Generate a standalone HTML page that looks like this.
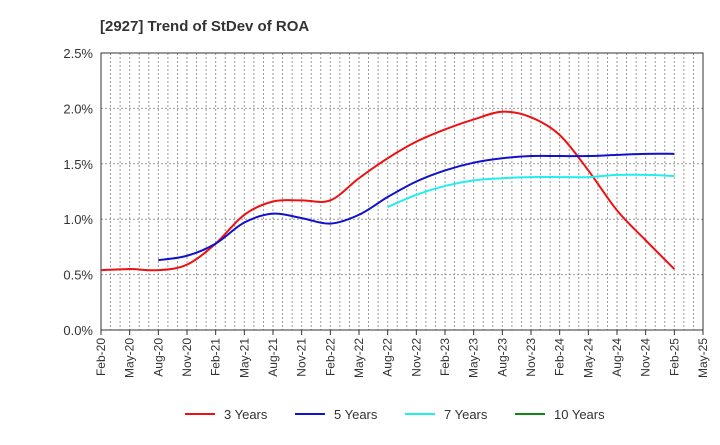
<!DOCTYPE html>
<html><head><meta charset="utf-8"><style>
body{margin:0;background:#fff;font-family:"Liberation Sans",sans-serif}
svg text{font-family:"Liberation Sans",sans-serif}
</style></head><body>
<svg id="c" width="720" height="440">
<text x="100" y="31" font-size="15" font-weight="bold" fill="#333">[2927]  Trend of StDev of ROA</text>
<g id="grid"></g><g id="axes"></g><g id="series"></g><g id="legend"></g>
</svg>
<script>
const xLabels=["Feb-20","May-20","Aug-20","Nov-20","Feb-21","May-21","Aug-21","Nov-21","Feb-22","May-22","Aug-22","Nov-22","Feb-23","May-23","Aug-23","Nov-23","Feb-24","May-24","Aug-24","Nov-24","Feb-25","May-25"];
const yTicks=[0,0.5,1.0,1.5,2.0,2.5];
const seriesNames=["3 Years","5 Years","7 Years","10 Years"];
const seriesColors=["#ee1111","#1111cc","#22eeee","#118811"];
// values at quarter indices (0 = Feb-20)
const s3=[0.54,0.55,0.54,0.59,0.78,1.04,1.16,1.17,1.17,1.37,1.55,1.70,1.81,1.90,1.97,1.92,1.76,1.44,1.08,0.81,0.55];
const s3Start=0;
const s5=[0.63,0.67,0.78,0.97,1.05,1.01,0.96,1.04,1.20,1.34,1.44,1.51,1.55,1.57,1.57,1.57,1.58,1.59,1.59];
const s5Start=2;
const s7=[1.11,1.22,1.30,1.35,1.37,1.38,1.38,1.38,1.40,1.40,1.39];
const s7Start=10;
const s10=[];
const s10Start=0;

const L=101,R=703,T=53,B=330,NS="http://www.w3.org/2000/svg";
const xs=i=>L+(R-L)*i/21;
const ys=v=>B-(B-T)*v/2.5;
function mk(tag,attrs,parent,name,text){const e=document.createElementNS(NS,tag);for(const k in attrs)e.setAttribute(k,attrs[k]);


if(text!==undefined)e.textContent=text;document.getElementById(parent).appendChild(e);return e;}
for(let m=1;m<63;m++){const x=L+(R-L)*m/63;mk('line',{x1:x,x2:x,y1:T,y2:B,stroke:'#999','stroke-dasharray':'2,2','stroke-width':1},'grid','v-grid-line');}
yTicks.forEach(v=>{if(v>0)mk('line',{x1:L,x2:R,y1:ys(v),y2:ys(v),stroke:'#999','stroke-dasharray':'2,2'},'grid','h-grid-line');
mk('text',{x:L-8,y:ys(v)+5,'text-anchor':'end','font-size':13,fill:'#333'},'axes','y-tick-label',v.toFixed(1)+'%');});
mk('rect',{x:L,y:T,width:R-L,height:B-T,fill:'none',stroke:'#333','stroke-width':1},'axes','plot-frame');
xLabels.forEach((l,i)=>{const x=xs(i);mk('line',{x1:x,x2:x,y1:B,y2:B+5,stroke:'#333'},'axes','x-tick');
mk('text',{x:x+4,y:B+8,'text-anchor':'end','font-size':12,fill:'#333',transform:`rotate(-90 ${x+4} ${B+8})`},'axes','x-tick-label',l);});
function path(vals,start){const p=vals.map((v,i)=>[xs(start+i),ys(v)]);if(p.length<2)return'';let d=`M${p[0][0]},${p[0][1]}`;
for(let i=0;i<p.length-1;i++){const p0=p[Math.max(i-1,0)],p1=p[i],p2=p[i+1],p3=p[Math.min(i+2,p.length-1)];
d+=` C${p1[0]+(p2[0]-p0[0])/6},${p1[1]+(p2[1]-p0[1])/6} ${p2[0]-(p3[0]-p1[0])/6},${p2[1]-(p3[1]-p1[1])/6} ${p2[0]},${p2[1]}`;}return d;}
[[s3,s3Start],[s5,s5Start],[s7,s7Start],[s10,s10Start]].forEach(([v,s],k)=>{if(v.length>1)mk('path',{d:path(v,s),fill:'none',stroke:seriesColors[k],'stroke-width':2},'series','line-'+seriesNames[k].replace(' ','-').toLowerCase());});
const lx=[185,295,405,515];
seriesNames.forEach((n,k)=>{mk('line',{x1:lx[k],x2:lx[k]+30,y1:414,y2:414,stroke:seriesColors[k],'stroke-width':2},'legend','legend-swatch');
mk('text',{x:lx[k]+39,y:419,'font-size':13,fill:'#333'},'legend','legend-entry',n);});
</script>
</body></html>
